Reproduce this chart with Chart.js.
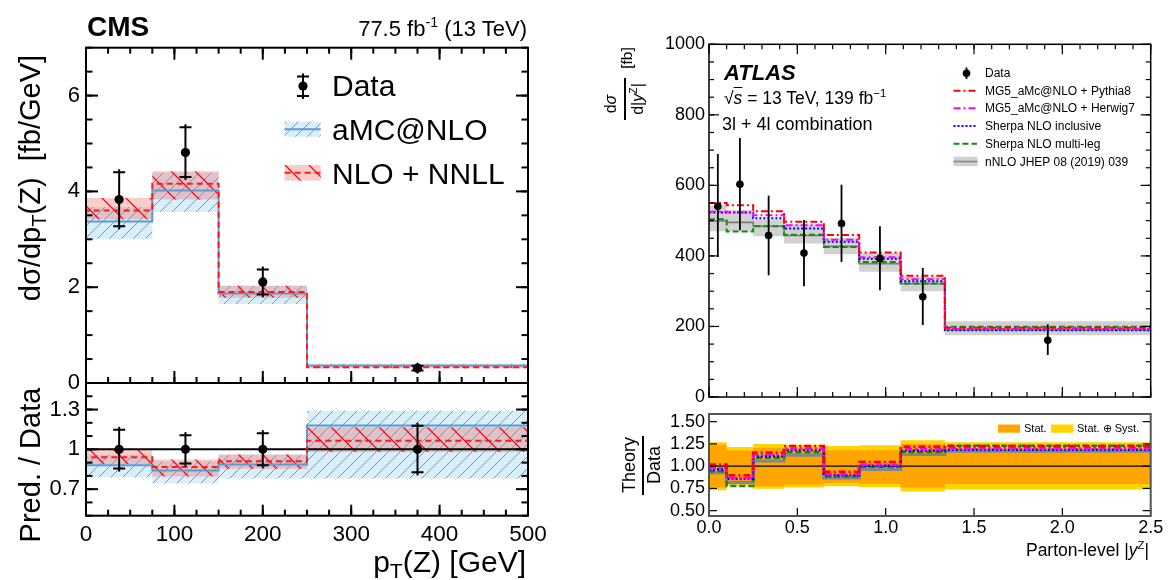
<!DOCTYPE html>
<html>
<head>
<meta charset="utf-8">
<title>CMS and ATLAS differential cross sections</title>
<script src="https://cdn.jsdelivr.net/npm/chart.js@4.4.1/dist/chart.umd.min.js"></script>
<style>
  html, body { margin:0; padding:0; background:#fff; }
  #wrap { position:relative; width:1173px; height:580px; overflow:hidden; font-family:'Liberation Sans', Arial, Helvetica, sans-serif; color:#000; }
  #wrap canvas { position:absolute; left:0; top:0; }
  .t { position:absolute; white-space:nowrap; line-height:1; }
  .rot { transform: translate(-50%, -50%) rotate(-90deg); }
  .t sup { font-size:65%; vertical-align:0.6em; line-height:0; }
  .t sub { font-size:70%; vertical-align:-0.3em; line-height:0; }
  .bar { position:absolute; background:#000; }
</style>
</head>
<body>
<div id="wrap">
  <canvas id="cmsMain" width="1173" height="580"></canvas>
  <canvas id="cmsRatio" width="1173" height="580"></canvas>
  <canvas id="atlasMain" width="1173" height="580"></canvas>
  <canvas id="atlasRatio" width="1173" height="580"></canvas>
</div>
<script>
// ================= DATA =================
// ---- CMS: pT(Z) ----
const cmsEdges   = [0, 75, 150, 250, 500];
const cmsCenters = [37.5, 112.5, 200, 375];
const cmsData    = [3.83, 4.81, 2.11, 0.31];
const cmsDataHi  = [4.40, 5.34, 2.37, 0.36];
const cmsDataLo  = [3.27, 4.30, 1.85, 0.26];
const cmsAmc     = [3.37, 4.02, 1.87, 0.365];
const cmsAmcHi   = [3.67, 4.39, 2.03, 0.40];
const cmsAmcLo   = [3.01, 3.57, 1.65, 0.33];
const cmsNnll    = [3.60, 4.16, 1.90, 0.33];
const cmsNnllHi  = [3.86, 4.42, 2.03, 0.36];
const cmsNnllLo  = [3.42, 3.83, 1.78, 0.31];
const cmsRatioData   = [1, 1, 1, 1];
const cmsRatioDataHi = [1.147, 1.107, 1.122, 1.178];
const cmsRatioDataLo = [0.855, 0.893, 0.880, 0.827];
const cmsRatioAmc    = [0.88, 0.84, 0.885, 1.18];
const cmsRatioAmcHi  = [0.96, 0.91, 0.96, 1.29];
const cmsRatioAmcLo  = [0.79, 0.745, 0.78, 0.78];
const cmsRatioNnll   = [0.94, 0.867, 0.91, 1.065];
const cmsRatioNnllHi = [0.995, 0.924, 0.962, 1.166];
const cmsRatioNnllLo = [0.89, 0.796, 0.853, 0.98];
const cmsXTicks = [0, 100, 200, 300, 400, 500];
const cmsXTickLabels = ['0', '100', '200', '300', '400', '500'];
const cmsYTicks = [0, 2, 4, 6];
const cmsYTickLabels = ['0', '2', '4', '6'];
const cmsRatioYTicks = [0.7, 1, 1.3];
const cmsRatioYTickLabels = ['0.7', '1', '1.3'];

// ---- ATLAS: |y^Z| ----
const atlasEdges   = [0, 0.1, 0.25, 0.425, 0.65, 0.85, 1.085, 1.335, 2.5];
const atlasCenters = [0.05, 0.175, 0.3375, 0.5375, 0.75, 0.9675, 1.21, 1.9175];
const atlasData    = [541, 603, 458, 408, 492, 393, 284, 161];
const atlasDataHi  = [689, 734, 571, 502, 602, 484, 366, 206];
const atlasDataLo  = [397, 473, 345, 314, 383, 303, 204, 119];
const mgPythia     = [550, 544, 527, 497, 459, 410, 344, 196];
const mgHerwig     = [525, 524, 515, 487, 446, 396, 334, 193];
const sherpaIncl   = [523, 523, 507, 478, 440, 392, 328, 189];
const sherpaMulti  = [504, 469, 484, 460, 425, 383, 322, 199];
const nnlo         = [499, 495, 484, 458, 427, 378, 321, 190];
const nnloHi       = [543, 530, 503, 489, 451, 408, 341, 215];
const nnloLo       = [470, 470, 456, 435, 405, 355, 300, 175];
const rPythia      = [1.018, 0.898, 1.153, 1.226, 0.938, 1.047, 1.219, 1.225];
const rHerwig      = [0.978, 0.869, 1.131, 1.197, 0.912, 1.015, 1.190, 1.200];
const rSherpaIncl  = [0.964, 0.858, 1.113, 1.182, 0.898, 1.004, 1.175, 1.185];
const rSherpaMulti = [0.942, 0.777, 1.095, 1.157, 0.883, 0.993, 1.161, 1.230];
const rNnlo        = [0.927, 0.818, 1.058, 1.124, 0.869, 0.964, 1.131, 1.168];
const statHi  = [1.24, 1.175, 1.205, 1.197, 1.18, 1.18, 1.25, 1.20];
const statLo  = [0.76, 0.82, 0.774, 0.79, 0.81, 0.80, 0.76, 0.80];
const totHi   = [1.27, 1.215, 1.25, 1.24, 1.226, 1.234, 1.29, 1.27];
const totLo   = [0.73, 0.777, 0.745, 0.76, 0.774, 0.766, 0.715, 0.737];
const atlasXTicks = [0, 0.5, 1, 1.5, 2, 2.5];
const atlasXTickLabels = ['0.0', '0.5', '1.0', '1.5', '2.0', '2.5'];
const atlasYTicks = [0, 200, 400, 600, 800, 1000];
const atlasYTickLabels = ['0', '200', '400', '600', '800', '1000'];
const atlasRatioYTicks = [0.5, 0.75, 1, 1.25, 1.5];
const atlasRatioYTickLabels = ['0.50', '0.75', '1.00', '1.25', '1.50'];

// ================= HELPERS =================
const FONT = "'Liberation Sans', Arial, Helvetica, sans-serif";
Chart.defaults.font.family = FONT;
Chart.defaults.color = '#000';
const W = 1173, H = 580;

function histPoints(edges, vals, fromZero) {
  const pts = [];
  if (fromZero) pts.push({ x: edges[0], y: 0 });
  vals.forEach((v, i) => { pts.push({ x: edges[i], y: v }); pts.push({ x: edges[i + 1], y: v }); });
  return pts;
}
function xyPoints(xs, ys) { return xs.map((x, i) => ({ x: x, y: ys[i] })); }
function unityLine(edges, v) { return [{ x: edges[0], y: v }, { x: edges[edges.length - 1], y: v }]; }

function bandEdge(edges, vals, order, fillTo, bg) {
  return { data: histPoints(edges, vals), borderWidth: 0, borderColor: 'rgba(0,0,0,0)', pointRadius: 0,
    fill: fillTo === undefined ? false : fillTo, backgroundColor: bg || 'rgba(0,0,0,0)', order: order };
}
function histLine(data, o) {
  return { data: data, borderColor: o.color, borderWidth: o.width, borderDash: o.dash || [],
    pointRadius: 0, fill: false, order: o.order, borderCapStyle: 'butt', borderJoinStyle: 'miter' };
}
function pointSet(xs, ys, r, order) {
  return { data: xyPoints(xs, ys), showLine: false, pointRadius: r, pointBackgroundColor: '#000',
    pointBorderColor: '#000', pointBorderWidth: 0, order: order };
}
function hatch(size, bg, stroke, lw, dir) {
  const c = document.createElement('canvas'); c.width = size; c.height = size;
  const g = c.getContext('2d');
  g.fillStyle = bg; g.fillRect(0, 0, size, size);
  g.strokeStyle = stroke; g.lineWidth = lw; g.beginPath();
  if (dir > 0) {
    g.moveTo(-2, size + 2); g.lineTo(size + 2, -2);
    g.moveTo(-2, 2); g.lineTo(2, -2);
    g.moveTo(size - 2, size + 2); g.lineTo(size + 2, size - 2);
  } else {
    g.moveTo(-2, -2); g.lineTo(size + 2, size + 2);
    g.moveTo(size - 2, -2); g.lineTo(size + 2, 2);
    g.moveTo(-2, size - 2); g.lineTo(2, size + 2);
  }
  g.stroke();
  return g.createPattern(c, 'repeat');
}
const bluePat = hatch(12, 'rgba(120,195,240,0.28)', 'rgba(70,165,225,0.95)', 1, 1);
const pinkPat = hatch(24, 'rgba(235,100,95,0.32)', '#e8141a', 1.3, -1);

function axisCfg(c, fit) {
  return {
    type: 'linear', min: c.min, max: c.max,
    grid: { display: false, drawTicks: false }, border: { display: false },
    afterFit: fit,
    afterBuildTicks: function (s) { s.ticks = c.ticks.map(v => ({ value: v })); },
    ticks: {
      display: c.show, autoSkip: false, maxRotation: 0, minRotation: 0, padding: c.pad || 0,
      font: { size: c.size || 12, family: FONT }, color: '#000',
      callback: function (v) {
        const k = c.ticks.findIndex(t => Math.abs(t - v) < 1e-9);
        return k >= 0 ? c.labels[k] : '';
      }
    }
  };
}
function baseOptions(area, xc, yc) {
  return {
    responsive: false, maintainAspectRatio: false, animation: false, devicePixelRatio: 1, events: [],
    layout: { padding: { left: 0, top: area.t, right: W - area.r, bottom: 0 } },
    plugins: { legend: { display: false }, tooltip: { enabled: false }, title: { display: false } },
    scales: {
      x: axisCfg(xc, s => { s.height = H - area.b; }),
      y: axisCfg(yc, s => { s.width = area.l; })
    }
  };
}
function stepVals(mn, mx, st) {
  const r = []; let v = Math.ceil(mn / st - 1e-9) * st;
  for (; v <= mx + 1e-9; v += st) r.push(+v.toFixed(6));
  return r;
}
function frameTicks(id, cfg) {
  return { id: id, afterDraw(chart) {
    const ctx = chart.ctx, a = chart.chartArea, xs = chart.scales.x, ys = chart.scales.y;
    ctx.save(); ctx.strokeStyle = cfg.color; ctx.lineCap = 'butt'; ctx.setLineDash([]);
    const seg = (x1, y1, x2, y2) => { ctx.beginPath(); ctx.moveTo(x1, y1); ctx.lineTo(x2, y2); ctx.stroke(); };
    ctx.lineWidth = cfg.tickLw;
    const xt = [], yt = [];
    if (cfg.xMinor) stepVals(xs.min, xs.max, cfg.xMinor[0]).forEach(v => xt.push([v, cfg.xMinor[1]]));
    cfg.xMajor[0].forEach(v => xt.push([v, cfg.xMajor[1]]));
    if (cfg.yMinor) stepVals(ys.min, ys.max, cfg.yMinor[0]).forEach(v => yt.push([v, cfg.yMinor[1]]));
    cfg.yMajor[0].forEach(v => yt.push([v, cfg.yMajor[1]]));
    xt.forEach(([v, len]) => { const p = xs.getPixelForValue(v);
      if (cfg.bottom) seg(p, a.bottom, p, a.bottom - len);
      if (cfg.top) seg(p, a.top, p, a.top + len); });
    yt.forEach(([v, len]) => { const p = ys.getPixelForValue(v);
      if (cfg.left) seg(a.left, p, a.left + len, p);
      if (cfg.right) seg(a.right, p, a.right - len, p); });
    ctx.lineWidth = cfg.lw; ctx.strokeStyle = cfg.frameColor || cfg.color;
    ctx.strokeRect(a.left, a.top, a.right - a.left, a.bottom - a.top);
    ctx.restore();
  } };
}
function errBars(id, s) {
  return { id: id, afterDatasetsDraw(chart) {
    const ctx = chart.ctx, xs = chart.scales.x, ys = chart.scales.y;
    ctx.save(); ctx.strokeStyle = '#000'; ctx.lineWidth = s.lw; ctx.setLineDash([]);
    s.x.forEach((xv, i) => {
      const px = xs.getPixelForValue(xv), ph = ys.getPixelForValue(s.hi[i]), pl = ys.getPixelForValue(s.lo[i]);
      ctx.beginPath(); ctx.moveTo(px, ph - s.ext); ctx.lineTo(px, pl + s.ext); ctx.stroke();
      if (s.cap) { ctx.beginPath(); ctx.moveTo(px - s.cap, ph); ctx.lineTo(px + s.cap, ph);
        ctx.moveTo(px - s.cap, pl); ctx.lineTo(px + s.cap, pl); ctx.stroke(); }
    });
    ctx.restore();
  } };
}
function seg(ctx, x1, y1, x2, y2) { ctx.beginPath(); ctx.moveTo(x1, y1); ctx.lineTo(x2, y2); ctx.stroke(); }

// ================= CMS MAIN =================
const cmsMainArea = { l: 86, r: 528, t: 47.7, b: 383 };
new Chart(document.getElementById('cmsMain'), {
  type: 'line',
  data: { datasets: [
    bandEdge(cmsEdges, cmsAmcLo, 10),
    bandEdge(cmsEdges, cmsAmcHi, 9, 0, bluePat),
    bandEdge(cmsEdges, cmsNnllLo, 8),
    bandEdge(cmsEdges, cmsNnllHi, 7, 2, pinkPat),
    histLine(histPoints(cmsEdges, cmsAmc, true), { color: '#5f9bd3', width: 2, order: 6 }),
    histLine(histPoints(cmsEdges, cmsNnll, true), { color: '#ff1a1a', width: 2, dash: [6, 4], order: 5 }),
    pointSet(cmsCenters, cmsData, 4.6, 0)
  ] },
  options: baseOptions(cmsMainArea,
    { min: 0, max: 500, ticks: cmsXTicks, labels: cmsXTickLabels, show: false },
    { min: 0, max: 7, ticks: cmsYTicks, labels: cmsYTickLabels, show: true, size: 22, pad: 6 }),
  plugins: [
    errBars('cmsErr', { x: cmsCenters, hi: cmsDataHi, lo: cmsDataLo, lw: 2, cap: 6, ext: 3 }),
    frameTicks('cmsFrame', { color: '#000', lw: 2, tickLw: 2, xMajor: [cmsXTicks, 12], xMinor: [25, 6],
      yMajor: [cmsYTicks, 12], yMinor: [0.5, 6.5], bottom: true, top: true, left: true, right: true }),
    { id: 'cmsLegend', afterDraw(chart) {
      const ctx = chart.ctx; ctx.save();
      ctx.strokeStyle = '#000'; ctx.lineWidth = 2;
      seg(ctx, 303, 73.5, 303, 99); seg(ctx, 297, 76.5, 309, 76.5); seg(ctx, 297, 96, 309, 96);
      ctx.fillStyle = '#000'; ctx.beginPath(); ctx.arc(303, 86, 4.6, 0, Math.PI * 2); ctx.fill();
      ctx.fillStyle = bluePat; ctx.fillRect(284.6, 121.7, 36.1, 15);
      ctx.strokeStyle = '#5f9bd3'; seg(ctx, 284.6, 129.2, 320.7, 129.2);
      ctx.fillStyle = pinkPat; ctx.fillRect(284.6, 165, 36.1, 15.7);
      ctx.strokeStyle = '#ff1a1a'; ctx.setLineDash([6, 4]); seg(ctx, 284.6, 172.8, 320.7, 172.8);
      ctx.restore();
    } }
  ]
});

// ================= CMS RATIO =================
const cmsRatioArea = { l: 86, r: 528, t: 383, b: 515.7 };
new Chart(document.getElementById('cmsRatio'), {
  type: 'line',
  data: { datasets: [
    bandEdge(cmsEdges, cmsRatioAmcLo, 10),
    bandEdge(cmsEdges, cmsRatioAmcHi, 9, 0, bluePat),
    bandEdge(cmsEdges, cmsRatioNnllLo, 8),
    bandEdge(cmsEdges, cmsRatioNnllHi, 7, 2, pinkPat),
    histLine(unityLine(cmsEdges, 1), { color: '#000', width: 2, order: 6 }),
    histLine(histPoints(cmsEdges, cmsRatioAmc, true), { color: '#5f9bd3', width: 2, order: 5 }),
    histLine(histPoints(cmsEdges, cmsRatioNnll, true), { color: '#ff1a1a', width: 2, dash: [6, 4], order: 4 }),
    pointSet(cmsCenters, cmsRatioData, 4.6, 0)
  ] },
  options: baseOptions(cmsRatioArea,
    { min: 0, max: 500, ticks: cmsXTicks, labels: cmsXTickLabels, show: true, size: 22.5, pad: 6 },
    { min: 0.5, max: 1.5, ticks: cmsRatioYTicks, labels: cmsRatioYTickLabels, show: true, size: 22, pad: 6 }),
  plugins: [
    errBars('cmsRErr', { x: cmsCenters, hi: cmsRatioDataHi, lo: cmsRatioDataLo, lw: 2, cap: 6, ext: 3 }),
    frameTicks('cmsRFrame', { color: '#000', lw: 2, tickLw: 2, xMajor: [cmsXTicks, 11], xMinor: [25, 6],
      yMajor: [cmsRatioYTicks, 12], yMinor: [0.1, 6.5], bottom: true, top: false, left: true, right: true })
  ]
});

// ================= ATLAS MAIN =================
const atlasMainArea = { l: 709, r: 1150.7, t: 44.3, b: 397 };
const GRAYBAND = 'rgba(180,180,180,0.62)';
new Chart(document.getElementById('atlasMain'), {
  type: 'line',
  data: { datasets: [
    bandEdge(atlasEdges, nnloLo, 20),
    bandEdge(atlasEdges, nnloHi, 19, 0, GRAYBAND),
    histLine(histPoints(atlasEdges, nnlo), { color: '#7a7a7a', width: 1.6, order: 15 }),
    histLine(histPoints(atlasEdges, sherpaMulti), { color: '#148a14', width: 2, dash: [6, 3], order: 14 }),
    histLine(histPoints(atlasEdges, sherpaIncl), { color: '#0000ff', width: 2, dash: [2, 2], order: 13 }),
    histLine(histPoints(atlasEdges, mgHerwig), { color: '#ff00ff', width: 2, dash: [7, 3, 2, 3], order: 12 }),
    histLine(histPoints(atlasEdges, mgPythia), { color: '#ff0000', width: 2, dash: [7, 3, 2, 3], order: 11 }),
    pointSet(atlasCenters, atlasData, 3.8, 0)
  ] },
  options: baseOptions(atlasMainArea,
    { min: 0, max: 2.5, ticks: atlasXTicks, labels: atlasXTickLabels, show: false },
    { min: 0, max: 1000, ticks: atlasYTicks, labels: atlasYTickLabels, show: true, size: 18, pad: 4 }),
  plugins: [
    errBars('atlasErr', { x: atlasCenters, hi: atlasDataHi, lo: atlasDataLo, lw: 1.8, cap: 0, ext: 0 }),
    frameTicks('atlasFrame', { color: '#000', lw: 1.5, tickLw: 1.2, xMajor: [atlasXTicks, 10], xMinor: [0.1, 5],
      yMajor: [atlasYTicks, 10], yMinor: [50, 5], bottom: true, top: true, left: true, right: true }),
    { id: 'atlasLegend', afterDraw(chart) {
      const ctx = chart.ctx; ctx.save();
      ctx.strokeStyle = '#000'; ctx.lineWidth = 1.8; seg(ctx, 966.5, 67.5, 966.5, 79);
      ctx.fillStyle = '#000'; ctx.beginPath(); ctx.arc(966.5, 73.3, 3.8, 0, Math.PI * 2); ctx.fill();
      ctx.lineWidth = 2;
      ctx.strokeStyle = '#ff0000'; ctx.setLineDash([7, 3, 2, 3]); seg(ctx, 953.5, 90.8, 977, 90.8);
      ctx.strokeStyle = '#ff00ff'; seg(ctx, 953.5, 108.2, 977, 108.2);
      ctx.strokeStyle = '#0000ff'; ctx.setLineDash([2, 2]); seg(ctx, 953.5, 126, 977, 126);
      ctx.strokeStyle = '#148a14'; ctx.setLineDash([6, 3]); seg(ctx, 953.5, 143.7, 977, 143.7);
      ctx.setLineDash([]);
      ctx.fillStyle = GRAYBAND; ctx.fillRect(953.5, 156.7, 24, 9.5);
      ctx.strokeStyle = '#8a8a8a'; ctx.lineWidth = 1.6; seg(ctx, 953.5, 161.5, 977.5, 161.5);
      ctx.restore();
    } }
  ]
});

// ================= ATLAS RATIO =================
const atlasRatioArea = { l: 709, r: 1150.7, t: 414, b: 516 };
new Chart(document.getElementById('atlasRatio'), {
  type: 'line',
  data: { datasets: [
    bandEdge(atlasEdges, totLo, 30),
    bandEdge(atlasEdges, totHi, 29, 0, '#ffd400'),
    bandEdge(atlasEdges, statLo, 28),
    bandEdge(atlasEdges, statHi, 27, 2, '#ffa500'),
    histLine(unityLine(atlasEdges, 1), { color: '#000', width: 1.2, order: 26 }),
    histLine(histPoints(atlasEdges, rNnlo), { color: '#858585', width: 3.2, order: 15 }),
    histLine(histPoints(atlasEdges, rSherpaMulti), { color: '#148a14', width: 2.6, dash: [6, 3], order: 14 }),
    histLine(histPoints(atlasEdges, rSherpaIncl), { color: '#0000ff', width: 2.6, dash: [2, 2], order: 13 }),
    histLine(histPoints(atlasEdges, rHerwig), { color: '#ff00ff', width: 2.6, dash: [7, 3, 2, 3], order: 12 }),
    histLine(histPoints(atlasEdges, rPythia), { color: '#ff0000', width: 2.6, dash: [7, 3, 2, 3], order: 11 })
  ] },
  options: baseOptions(atlasRatioArea,
    { min: 0, max: 2.5, ticks: atlasXTicks, labels: atlasXTickLabels, show: true, size: 18, pad: 1 },
    { min: 0.44, max: 1.586, ticks: atlasRatioYTicks, labels: atlasRatioYTickLabels, show: true, size: 18, pad: 4 }),
  plugins: [
    frameTicks('atlasRFrame', { color: '#000', frameColor: '#555', lw: 2, tickLw: 1.2, xMajor: [atlasXTicks, 8], xMinor: null,
      yMajor: [atlasRatioYTicks, 8], yMinor: null, bottom: true, top: false, left: true, right: true }),
    { id: 'atlasRLegend', afterDraw(chart) {
      const ctx = chart.ctx; ctx.save();
      ctx.fillStyle = '#ffa500'; ctx.fillRect(998, 424.5, 22, 8.2);
      ctx.fillStyle = '#ffd400'; ctx.fillRect(1051, 424.5, 22, 8.2);
      ctx.restore();
    } }
  ]
});

// ================= TEXT (HTML) =================
const wrap = document.getElementById('wrap');
function addText(html, x, base, size, opt) {
  opt = opt || {};
  const d = document.createElement('div');
  d.className = 't'; d.innerHTML = html; d.style.fontSize = size + 'px';
  if (opt.weight) d.style.fontWeight = opt.weight;
  if (opt.style) d.style.fontStyle = opt.style;
  d.style.top = (base - 0.8465 * size) + 'px';
  if (opt.right) d.style.right = (W - x) + 'px'; else d.style.left = x + 'px';
  wrap.appendChild(d);
}
function addRot(html, cx, cy, size) {
  const d = document.createElement('div');
  d.className = 't rot'; d.innerHTML = html; d.style.fontSize = size + 'px';
  d.style.left = cx + 'px'; d.style.top = cy + 'px';
  wrap.appendChild(d);
}
function addBar(x, y, w, h) {
  const d = document.createElement('div'); d.className = 'bar';
  d.style.left = x + 'px'; d.style.top = y + 'px'; d.style.width = w + 'px'; d.style.height = h + 'px';
  wrap.appendChild(d);
}
// CMS
addText('CMS', 87, 37, 28, { weight: 'bold' });
addText('77.5 fb<sup>-1</sup> (13 TeV)', 527, 37, 22, { right: true });
addRot('dσ/dp<sub>T</sub>(Z)&nbsp;&nbsp;[fb/GeV]', 30, 178, 29);
addRot('Pred. / Data', 30, 465, 29);
addText('p<sub>T</sub>(Z) [GeV]', 526, 572, 30, { right: true });
addText('Data', 332, 96.5, 30);
addText('aMC@NLO', 332, 140.5, 30);
addText('NLO + NNLL', 332, 184, 30);
// ATLAS
addText('<b><i>ATLAS</i></b>', 724, 80.7, 22);
addText('√<span style="text-decoration:overline"><i>s</i></span> = 13 TeV, 139 fb<sup>−1</sup>', 724, 105, 17.5);
addText('3l + 4l combination', 722, 130.7, 18);
addText('Data', 985, 77.6, 12);
addText('MG5_aMc@NLO + Pythia8', 985, 95, 12);
addText('MG5_aMc@NLO + Herwig7', 985, 112.5, 12);
addText('Sherpa NLO inclusive', 985, 130.3, 12);
addText('Sherpa NLO multi-leg', 985, 148, 12);
addText('nNLO JHEP 08 (2019) 039', 985, 166, 12);
addRot('d<i>σ</i>', 611, 104, 16);
addBar(624, 78, 1.6, 42);
addRot('d|<i>y</i><sup>Z</sup>|', 637.5, 99, 16);
addRot('[fb]', 626.5, 58, 15.5);
addRot('Theory', 628.5, 465, 18);
addBar(641.8, 436, 2, 59);
addRot('Data', 653.5, 465, 18);
addText('Parton-level |<i>y</i><sup>Z</sup>|', 1149, 557, 17.5, { right: true });
addText('Stat.', 1024, 432.8, 11);
addText('Stat. ⊕ Syst.', 1077, 432.8, 11);
</script>
</body>
</html>
